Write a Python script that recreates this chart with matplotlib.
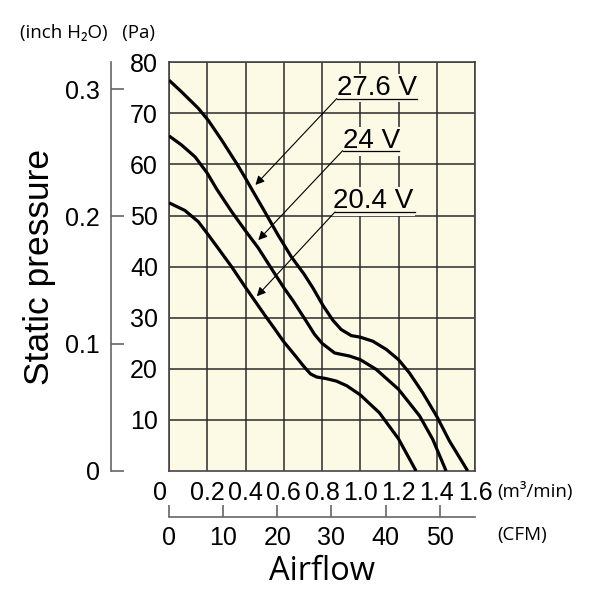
import numpy as np
import matplotlib
matplotlib.use("Agg")
import matplotlib.pyplot as plt
import matplotlib.transforms as mtransforms

plt.rcParams["font.family"] = ["Liberation Sans", "DejaVu Sans"]

# airflow (m3/min) and static pressure (Pa)
flow_276 = [0, 0.066, 0.153, 0.206, 0.275, 0.357, 0.4, 0.435, 0.5, 0.57, 0.64,
            0.705, 0.753, 0.805, 0.857, 0.9, 0.953, 1.0, 1.066, 1.136, 1.2,
            1.257, 1.327, 1.4, 1.466, 1.562]
pres_276 = [76.5, 74.2, 71.0, 68.6, 64.8, 60.0, 57.3, 55.0, 50.8, 46.2, 41.9,
            38.6, 35.8, 32.4, 29.5, 27.7, 26.5, 26.2, 25.4, 23.8, 21.8,
            19.2, 15.3, 10.7, 5.9, 0]

flow_24 = [0, 0.066, 0.136, 0.2, 0.249, 0.327, 0.4, 0.466, 0.536, 0.6, 0.649,
           0.718, 0.76, 0.8, 0.866, 0.944, 1.0, 1.083, 1.2, 1.31, 1.379, 1.449]
pres_24 = [65.6, 63.8, 61.5, 58.3, 55.2, 50.8, 47.0, 43.7, 39.6, 35.9, 33.3,
           29.3, 26.8, 25.0, 23.1, 22.5, 21.8, 19.9, 16.0, 10.8, 6.2, 0]

flow_204 = [0, 0.083, 0.153, 0.2, 0.257, 0.327, 0.397, 0.449, 0.501, 0.553, 0.6,
            0.666, 0.702, 0.74, 0.772, 0.82, 0.875, 0.929, 1.0, 1.1, 1.2, 1.292]
pres_204 = [52.5, 51.0, 48.8, 46.5, 43.6, 40.0, 36.1, 33.3, 30.5, 27.8, 25.3,
            22.3, 20.6, 19.0, 18.4, 18.1, 17.6, 16.7, 14.9, 11.4, 6.3, 0]

voltages = ["27.6 V", "24 V", "20.4 V"]
m3_ticks = [0, 0.2, 0.4, 0.6, 0.8, 1.0, 1.2, 1.4, 1.6]
m3_labels = ["0", "0.2", "0.4", "0.6", "0.8", "1.0", "1.2", "1.4", "1.6"]
pa_ticks = [10, 20, 30, 40, 50, 60, 70, 80]
inch_ticks = [0, 0.1, 0.2, 0.3]
inch_labels = ["0", "0.1", "0.2", "0.3"]
cfm_ticks = [0, 10, 20, 30, 40, 50]

PA_PER_INCH = 249.089
M3_PER_CFM = 0.0283168

# label layout: text centre x, baseline y, underline x0, x1, y, arrow tip
label_layout = [
    (1.086, 73.6, 0.877, 1.295, 72.9, (0.452, 56.0)),
    (1.060, 63.2, 0.908, 1.204, 62.7, (0.467, 45.2)),
    (1.068, 51.4, 0.868, 1.286, 50.7, (0.459, 34.2)),
]

tick_font = ["Liberation Sans Narrow", "Liberation Sans", "DejaVu Sans"]
unit_font = ["Open Sans", "Liberation Sans", "DejaVu Sans"]
cream = "#fcf9e4"

W, H = 599, 596
fig = plt.figure(figsize=(W / 100, H / 100), dpi=100)
ax = fig.add_axes([169 / W, (H - 471) / H, (475 - 169) / W, (471 - 62.3) / H])
ax.set_facecolor(cream)
ax.set_xlim(0, 1.6)
ax.set_ylim(0, 80)

ax.set_xticks(m3_ticks)
ax.set_xticklabels(m3_labels)
ax.set_yticks(pa_ticks)
ax.grid(True, color="#2a2a2a", lw=1.1)
ax.set_axisbelow(True)
ax.tick_params(axis="both", length=0, labelsize=18)
ax.tick_params(axis="x", pad=7)
ax.tick_params(axis="y", pad=8)
for lab in ax.get_xticklabels() + ax.get_yticklabels():
    lab.set_family(tick_font)
for s in ax.spines.values():
    s.set_color("#444444")
    s.set_linewidth(1.2)

# shift the x "0" a bit left like the original
lab0 = ax.get_xticklabels()[0]
lab0.set_transform(lab0.get_transform() +
                   mtransforms.ScaledTranslation(-9 / 100, 0, fig.dpi_scale_trans))

for fx, py in [(flow_276, pres_276), (flow_24, pres_24), (flow_204, pres_204)]:
    ax.plot(fx, py, color="black", lw=2.3, solid_joinstyle="round",
            solid_capstyle="butt", zorder=3)

for name, (tx, ty, ux0, ux1, uy, tip) in zip(voltages, label_layout):
    ax.text(tx, ty, name, ha="center", va="baseline", fontsize=20, zorder=4,
            bbox=dict(boxstyle="square,pad=0.05", fc=cream, ec="none"))
    ax.plot([ux0, ux1], [uy, uy], color="black", lw=0.9, zorder=5)
    ax.annotate("", xy=tip, xytext=(ux0, uy), zorder=5,
                arrowprops=dict(arrowstyle="-|>", lw=0.8, color="black",
                                shrinkA=0, shrinkB=0, mutation_scale=13))

# inch H2O axis on the far left
ax_in = ax.secondary_yaxis(-58 / 306, functions=(lambda p: p / PA_PER_INCH,
                                                 lambda i: i * PA_PER_INCH))
ax_in.set_yticks(inch_ticks)
ax_in.set_yticklabels(inch_labels, family=tick_font)
ax_in.tick_params(direction="in", length=9, width=1.2, color="#666666",
                  labelsize=18, pad=8)
ax_in.spines["left"].set_color("#666666")
ax_in.spines["left"].set_linewidth(1.2)

# CFM axis below
ax_cfm = ax.secondary_xaxis(-(516.7 - 471) / 408.7,
                            functions=(lambda m: m / M3_PER_CFM,
                                       lambda c: c * M3_PER_CFM))
ax_cfm.set_xticks(cfm_ticks)
ax_cfm.set_xticklabels([str(c) for c in cfm_ticks], family=tick_font)
ax_cfm.tick_params(direction="in", length=9, width=1.2, color="#666666",
                   labelsize=18, pad=7)
ax_cfm.spines["bottom"].set_color("#666666")
ax_cfm.spines["bottom"].set_linewidth(1.2)

fig.text(20 / W, 1 - 33 / H, "(inch H\u2082O)   (Pa)", fontsize=13.5, va="center",
         ha="left", family=unit_font)
fig.text(497 / W, 1 - 492 / H, "(m\u00b3/min)", fontsize=13.5, va="center",
         ha="left", family=unit_font)
fig.text(497 / W, 1 - 535 / H, "(CFM)", fontsize=13.5, va="center", ha="left",
         family=unit_font)
fig.text(40 / W, 1 - 267 / H, "Static pressure", fontsize=25.5, rotation=90,
         va="center", ha="center")
fig.text(322 / W, 1 - 572 / H, "Airflow", fontsize=23.5, va="center", ha="center",
         family=unit_font)

fig.savefig("out.png", dpi=100)
